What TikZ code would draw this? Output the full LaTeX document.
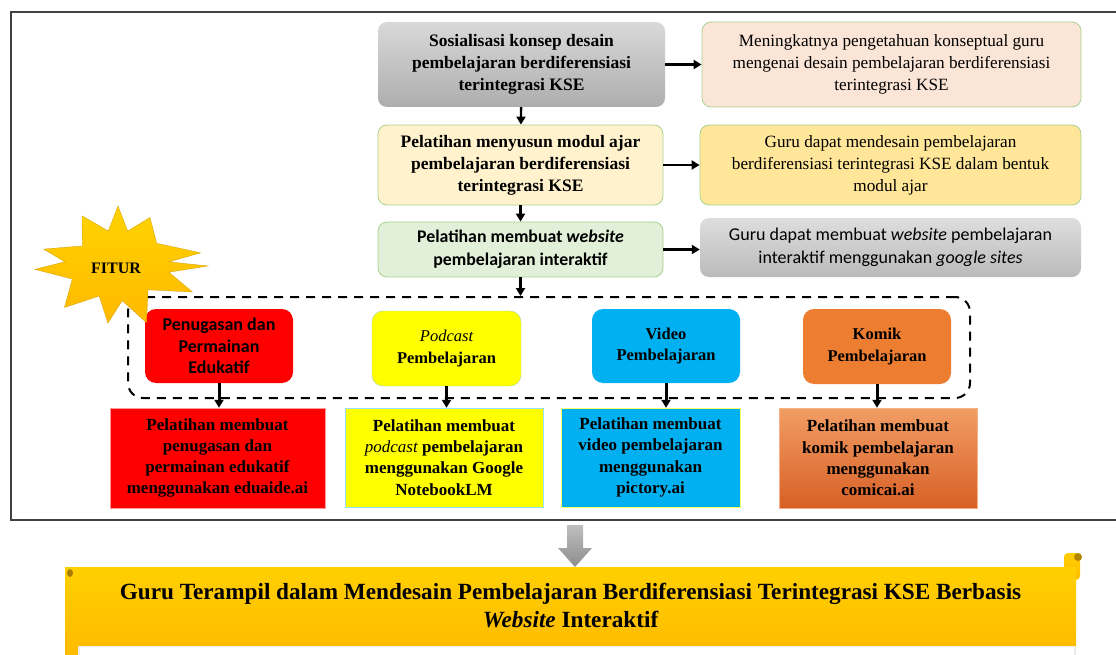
\documentclass[tikz,border=0pt]{standalone}
\usepackage{fontspec}
\setmainfont{Liberation Serif}
\newfontfamily\calibri{Carlito}
\usetikzlibrary{arrows.meta}

\definecolor{edge}{HTML}{A9D18E}
\definecolor{peach}{HTML}{FBE5D6}
\definecolor{cream}{HTML}{FFF2CC}
\definecolor{sand}{HTML}{FFE699}
\definecolor{mint}{HTML}{E2F0D9}
\definecolor{tred}{HTML}{FF0000}
\definecolor{tyellow}{HTML}{FFFF00}
\definecolor{tblue}{HTML}{00B0F0}
\definecolor{torange}{HTML}{ED7D31}
\definecolor{gold}{HTML}{FFC000}

\tikzset{
  box/.style={rounded corners=9pt, align=center, inner sep=2pt,
    font=\bfseries\fontsize{17.5}{22}\selectfont},
  outbox/.style={box, draw=edge, line width=0.8pt,
    font=\fontsize{17.2}{22}\selectfont},
  feat/.style={rounded corners=11pt, align=center, inner sep=2pt,
    font=\bfseries\fontsize{16.5}{21.5}\selectfont},
  train/.style={align=center, inner sep=2pt,
    font=\bfseries\fontsize{17}{21.3}\selectfont},
  flow/.style={->, line width=2.4pt}
}

\begin{document}
\begin{tikzpicture}[x=1pt, y=-1pt, >={Triangle[length=8pt, width=9pt]}]
	\useasboundingbox (0,0) rectangle (1116,655);

	% frame
	\draw [black!75, line width=1.2pt] (11,12) rectangle (1130,520);

	% steps
	\node [box, top color=black!15, bottom color=black!32, minimum width=287, minimum height=85] (sos) at (521.5,64.5)
		{Sosialisasi konsep desain\\pembelajaran berdiferensiasi\\terintegrasi KSE};
	\node [outbox, fill=peach, minimum width=379, minimum height=85] (sosout) at (891.5,64.5)
		{Meningkatnya pengetahuan konseptual guru\\mengenai desain pembelajaran berdiferensiasi\\terintegrasi KSE};
	\node [box, draw=edge, line width=0.8pt, fill=cream, minimum width=285, minimum height=80] (modul) at (520.5,165)
		{Pelatihan menyusun modul ajar\\pembelajaran berdiferensiasi\\terintegrasi KSE};
	\node [outbox, fill=sand, minimum width=381, minimum height=80] (modulout) at (890.5,165)
		{Guru dapat mendesain pembelajaran\\berdiferensiasi terintegrasi KSE dalam bentuk\\modul ajar};
	\node [box, draw=edge, line width=0.8pt, fill=mint, minimum width=285, minimum height=55,
		font=\calibri\bfseries\fontsize{17.8}{23}\selectfont] (web) at (520.5,249.5)
		{Pelatihan membuat \textit{website}\\pembelajaran interaktif};
	\node [box, top color=black!13, bottom color=black!27, minimum width=381, minimum height=59,
		font=\calibri\fontsize{18}{23}\selectfont] (webout) at (890.5,247.5)
		{Guru dapat membuat \textit{website} pembelajaran\\interaktif menggunakan \textit{google sites}};

	% features
	\node [draw, dashed, line width=2pt, rounded corners=15pt, dash pattern=on 9pt off 7pt,
		minimum width=842, minimum height=101] (fitbox) at (549,347.5) {};
	\node [feat, fill=tred, minimum width=148, minimum height=74,
		font=\calibri\bfseries\fontsize{18}{21.5}\selectfont] (tugas) at (219,346)
		{Penugasan dan\\Permainan\\Edukatif};
	\node [feat, fill=tyellow, draw=edge, minimum width=149, minimum height=75] (podcast) at (446.5,348.5)
		{\mdseries\itshape Podcast\\Pembelajaran};
	\node [feat, fill=tblue, minimum width=148, minimum height=74] (video) at (666,346)
		{Video\\Pembelajaran};
	\node [feat, fill=torange, minimum width=148, minimum height=75] (komik) at (877,346.5)
		{Komik\\Pembelajaran};

	\node [train, fill=tred, draw=tred!40, minimum width=215, minimum height=100] (ltugas) at (217.5,458)
		{Pelatihan membuat\\penugasan dan\\permainan edukatif\\menggunakan eduaide.ai};
	\node [train, fill=tyellow, draw=tblue!40, minimum width=198, minimum height=99] (lpodcast) at (444,457.5)
		{Pelatihan membuat\\{\mdseries\itshape podcast} pembelajaran\\menggunakan Google\\NotebookLM};
	\node [train, fill=tblue, draw=tyellow!60, minimum width=179, minimum height=99] (lvideo) at (650.5,457.5)
		{Pelatihan membuat\\video pembelajaran\\menggunakan\\pictory.ai};
	\node [train, top color=torange!75, bottom color=torange!85!red!90!black, draw=torange!60,
		minimum width=198, minimum height=100] (lkomik) at (878,458)
		{Pelatihan membuat\\komik pembelajaran\\menggunakan\\comicai.ai};

	% star
	\shade [top color=gold!70!yellow, bottom color=gold!90!orange, draw=gold!80!black, line width=0.3pt, shift={(118,266)}]
		(0:90 and 20) -- (12:52 and 30) -- (30:86 and 52) -- (48:45 and 32) -- (66:70 and 62) -- (82:30 and 35)
		-- (100:58 and 58) -- (118:40 and 34) -- (138:72 and 62) -- (156:50 and 32) -- (172:84 and 24)
		-- (190:54 and 24) -- (205:82 and 40) -- (222:48 and 30) -- (240:72 and 58) -- (256:40 and 36)
		-- (270:38 and 60) -- (284:40 and 36) -- (300:64 and 56) -- (318:52 and 34) -- (334:92 and 30)
		-- (348:52 and 20) -- cycle;
	\node [font=\bfseries\fontsize{16}{18}\selectfont] (fitur) at (116,268) {FITUR};

	% arrows
	\draw [flow] (sos) -- (sosout);
	\draw [flow] (modul) -- (modulout);
	\draw [flow] (web.east) -- (web.east -| webout.west);
	\draw [flow] (sos) -- (modul);
	\draw [flow] (modul) -- (web);
	\draw [flow] (web.south) -- (web.south |- fitbox.north);
	\draw [flow, line width=3pt] (tugas.south) -- (tugas.south |- ltugas.north);
	\draw [flow, line width=3pt] (podcast.south) -- (podcast.south |- lpodcast.north);
	\draw [flow, line width=3pt] (video.south) -- (video.south |- lvideo.north);
	\draw [flow, line width=3pt] (komik.south) -- (komik.south |- lkomik.north);

	% result
	\fill [gold!95!orange] (65,600) rectangle (78,655);
	\fill [black!8] (78,645) rectangle (1076,655);
	\fill [white] (80,647) rectangle (1074,655);
	\shade [top color=gold!80!yellow, bottom color=gold!95!orange, rounded corners=4pt] (1064,553) rectangle (1080,580);
	\fill [gold!70!black] (1078,557) circle (4);
	\node [top color=gold!75!yellow, bottom color=gold!95!orange, align=center, minimum width=1011, minimum height=78,
		font=\bfseries\fontsize{23.2}{28}\selectfont] (hasil) at (570.5,606)
		{Guru Terampil dalam Mendesain Pembelajaran Berdiferensiasi Terintegrasi KSE Berbasis\\\textit{Website} Interaktif};
	\fill [gold!65!black] (70,573) ellipse (3 and 4);
	\shade [top color=black!25, bottom color=black!45]
		(567,525) -- (583,525) -- (583,548) -- (592,548) -- (575,567) -- (558,548) -- (567,548) -- cycle;
\end{tikzpicture}
\end{document}
